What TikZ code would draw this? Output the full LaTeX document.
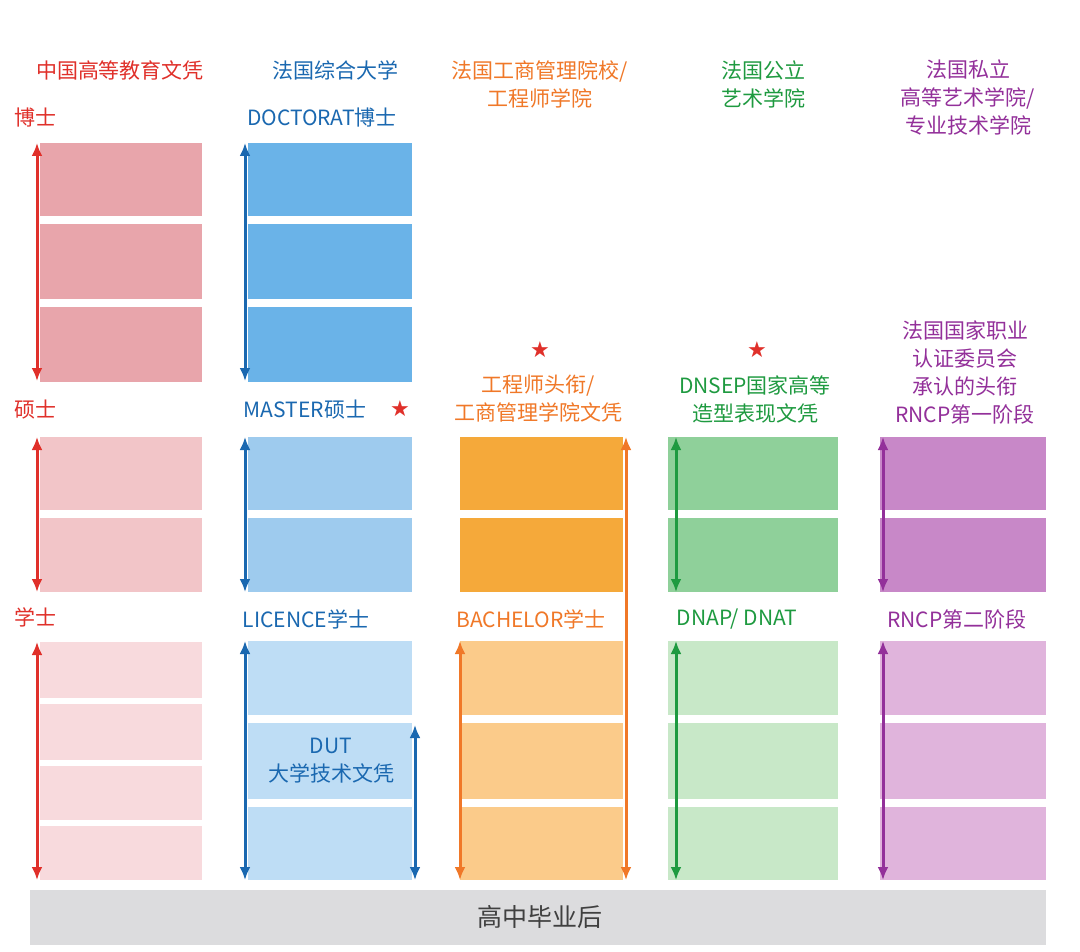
\documentclass[tikz,border=0pt]{standalone}
\usepackage{fontspec}
\setmainfont{Noto Sans CJK SC}
\newfontfamily\symf{DejaVu Sans}
\usetikzlibrary{arrows.meta}
\definecolor{cred}{HTML}{E0302A}\definecolor{rA}{HTML}{E8A5AB}\definecolor{rB}{HTML}{F2C5C8}\definecolor{rC}{HTML}{F8DADD}
\definecolor{cblue}{HTML}{1A68B0}\definecolor{bA}{HTML}{6AB3E8}\definecolor{bB}{HTML}{9ECBEE}\definecolor{bC}{HTML}{BEDDF5}
\definecolor{corg}{HTML}{F07828}\definecolor{oB}{HTML}{F5A93A}\definecolor{oC}{HTML}{FBCB8A}
\definecolor{cgrn}{HTML}{1E9A40}\definecolor{gB}{HTML}{8FD09A}\definecolor{gC}{HTML}{C8E8C8}
\definecolor{cpur}{HTML}{93309A}\definecolor{pB}{HTML}{C888C8}\definecolor{pC}{HTML}{E0B4DC}
\definecolor{gray1}{HTML}{DCDCDE}
\begin{document}
\begin{tikzpicture}[x=1pt,y=-1pt,
 txt/.style={font=\fontsize{21}{28}\selectfont,align=center,inner sep=0pt},
 arr/.style={line width=3pt,{Latex[length=13pt,width=11pt]}-{Latex[length=13pt,width=11pt]}}]
\useasboundingbox (0,0) rectangle (1080,952);
\fill[white] (0,0) rectangle (1080,952);
\newcommand\bx[5]{\fill[#5] (#1,#3) rectangle (#2,#4);}
% col1
\foreach \a/\b in {143/216,224/299,307/382}{\bx{40}{202}{\a}{\b}{rA}}
\foreach \a/\b in {437/510,518/592}{\bx{40}{202}{\a}{\b}{rB}}
\foreach \a/\b in {642/698,704/760,766/820,826/880}{\bx{40}{202}{\a}{\b}{rC}}
% col2
\foreach \a/\b in {143/216,224/299,307/382}{\bx{248}{412}{\a}{\b}{bA}}
\foreach \a/\b in {437/510,518/592}{\bx{248}{412}{\a}{\b}{bB}}
\foreach \a/\b in {641/715,723/799,807/880}{\bx{248}{412}{\a}{\b}{bC}}
% col3
\foreach \a/\b in {437/510,518/592}{\bx{460}{623}{\a}{\b}{oB}}
\foreach \a/\b in {641/715,723/799,807/880}{\bx{460}{623}{\a}{\b}{oC}}
% col4
\foreach \a/\b in {437/510,518/592}{\bx{668}{838}{\a}{\b}{gB}}
\foreach \a/\b in {641/715,723/799,807/880}{\bx{668}{838}{\a}{\b}{gC}}
% col5
\foreach \a/\b in {437/510,518/592}{\bx{880}{1046}{\a}{\b}{pB}}
\foreach \a/\b in {641/715,723/799,807/880}{\bx{880}{1046}{\a}{\b}{pC}}
% arrows
\coordinate (r1a) at (37,143);\coordinate (r1b) at (37,381);
\coordinate (r2a) at (37,437);\coordinate (r2b) at (37,592);
\coordinate (r3a) at (37,642);\coordinate (r3b) at (37,880);
\draw[arr,cred] (r1a)--(r1b);\draw[arr,cred] (r2a)--(r2b);\draw[arr,cred] (r3a)--(r3b);
\coordinate (b1a) at (245,143);\coordinate (b1b) at (245,381);
\coordinate (b2a) at (245,437);\coordinate (b2b) at (245,592);
\coordinate (b3a) at (245,641);\coordinate (b3b) at (245,880);
\coordinate (b4a) at (415,725);\coordinate (b4b) at (415,880);
\draw[arr,cblue] (b1a)--(b1b);\draw[arr,cblue] (b2a)--(b2b);\draw[arr,cblue] (b3a)--(b3b);\draw[arr,cblue] (b4a)--(b4b);
\coordinate (o1a) at (626,437);\coordinate (o1b) at (626,880);
\coordinate (o2a) at (460,641);\coordinate (o2b) at (460,880);
\draw[arr,corg] (o1a)--(o1b);\draw[arr,corg] (o2a)--(o2b);
\coordinate (g1a) at (676,437);\coordinate (g1b) at (676,592);
\coordinate (g2a) at (676,641);\coordinate (g2b) at (676,880);
\draw[arr,cgrn] (g1a)--(g1b);\draw[arr,cgrn] (g2a)--(g2b);
\coordinate (p1a) at (883,437);\coordinate (p1b) at (883,592);
\coordinate (p2a) at (883,641);\coordinate (p2b) at (883,880);
\draw[arr,cpur] (p1a)--(p1b);\draw[arr,cpur] (p2a)--(p2b);
% bottom bar
\fill[gray1] (30,890) rectangle (1046,945);
\node[txt,font=\fontsize{25}{28}\selectfont,text=black!75] (base) at (540,917) {高中毕业后};
% headers
\node[txt,text=cred] (h1) at (120,70) {中国高等教育文凭};
\node[txt,text=cblue] (h2) at (335,70) {法国综合大学};
\node[txt,text=corg] (h3) at (540,84) {法国工商管理院校/\\工程师学院};
\node[txt,text=cgrn] (h4) at (763,84) {法国公立\\艺术学院};
\node[txt,text=cpur] (h5) at (968,97) {法国私立\\高等艺术学院/\\专业技术学院};
% labels
\node[txt,text=cred] (l1) at (36,118) {博士};
\node[txt,text=cred] (l2) at (36,410) {硕士};
\node[txt,text=cred] (l3) at (36,617) {学士};
\node[txt,text=cblue] (d1) at (322,118) {DOCTORAT博士};
\node[txt,text=cblue] (d2) at (305,410) {MASTER硕士};
\node[txt,text=cred,font=\symf\fontsize{22}{24}\selectfont] (s1) at (400,409) {★};
\node[txt,text=cblue] (d3) at (306,619) {LICENCE学士};
\node[txt,text=cblue] (dut) at (331,761) {DUT\\大学技术文凭};
\node[txt,text=cred,font=\symf\fontsize{22}{24}\selectfont] (s2) at (540,350) {★};
\node[txt,text=corg] (o1) at (538,399) {工程师头衔/\\工商管理学院文凭};
\node[txt,text=corg] (o2) at (531,619) {BACHELOR学士};
\node[txt,text=cred,font=\symf\fontsize{22}{24}\selectfont] (s3) at (757,350) {★};
\node[txt,text=cgrn] (g1) at (755,399) {DNSEP国家高等\\造型表现文凭};
\node[txt,text=cgrn] (g2) at (737,619) {DNAP/ DNAT};
\node[txt,text=cpur] (p1) at (965,372) {法国国家职业\\认证委员会\\承认的头衔\\RNCP第一阶段};
\node[txt,text=cpur] (p2) at (957,619) {RNCP第二阶段};
\end{tikzpicture}
\end{document}
